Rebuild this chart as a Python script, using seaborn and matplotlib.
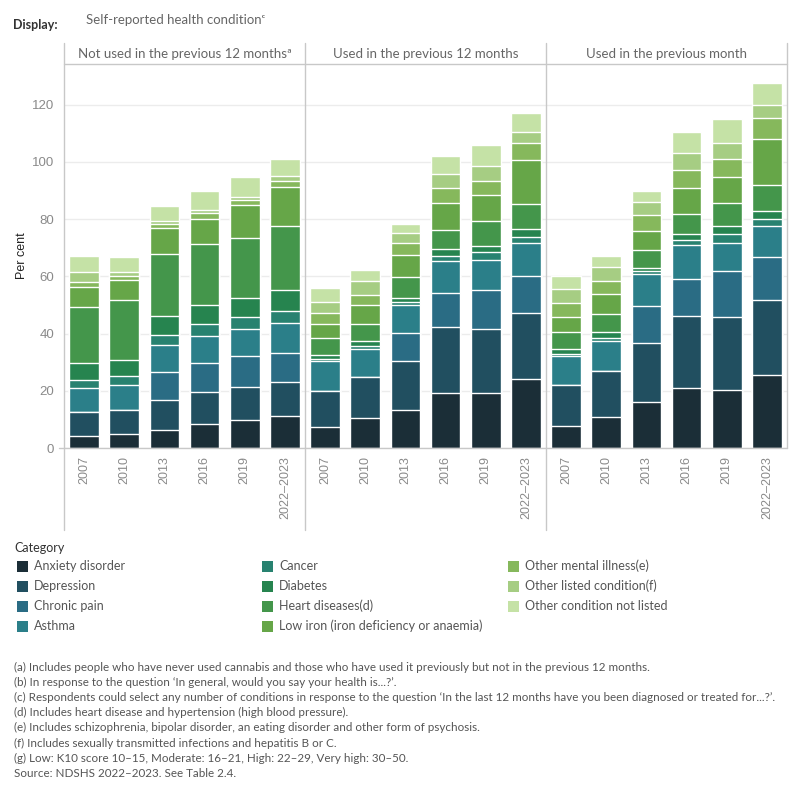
import pandas as pd
import matplotlib
matplotlib.use("Agg")
import matplotlib.pyplot as plt
import seaborn as sns
from matplotlib.patches import Rectangle
from matplotlib.lines import Line2D

years = ["2007", "2010", "2013", "2016", "2019", "2022–2023"]
groups = ["Not used in the previous 12 monthsª", "Used in the previous 12 months",
          "Used in the previous month"]
categories = ["Anxiety disorder", "Depression", "Chronic pain", "Asthma", "Cancer",
              "Diabetes", "Heart diseases(d)", "Low iron (iron deficiency or anaemia)",
              "Other mental illness(e)", "Other listed condition(f)", "Other condition not listed"]
palette = ["#1b2e37", "#214f60", "#2a6c84", "#2b7f89", "#288270", "#26844f",
           "#44964b", "#66a648", "#86b85c", "#a6cd83", "#c5e2a6"]

# per cent, rows follow `categories`, columns follow `years`
not_used_12m = [
    [4.2, 5.0, 6.4, 8.5, 9.7, 11.2],
    [8.4, 8.4, 10.5, 11.1, 11.6, 11.9],
    [0, 0, 9.7, 10.2, 10.9, 10.2],
    [8.4, 8.7, 9.3, 9.4, 9.5, 10.4],
    [2.9, 3.0, 3.7, 4.3, 4.1, 4.1],
    [5.8, 5.8, 6.6, 6.6, 6.8, 7.3],
    [19.6, 20.7, 21.7, 21.3, 20.8, 22.6],
    [7.0, 7.0, 9.0, 8.6, 11.7, 13.6],
    [1.7, 1.7, 1.5, 2.2, 1.7, 2.1],
    [3.5, 1.2, 0.9, 1.1, 1.0, 1.6],
    [5.5, 5.3, 5.3, 6.6, 7.0, 5.9],
]
used_12m = [
    [7.3, 10.5, 13.4, 19.2, 19.2, 24.0],
    [12.6, 14.3, 17.0, 23.1, 22.5, 23.2],
    [0, 0, 9.8, 11.9, 13.5, 12.9],
    [10.5, 9.8, 9.7, 11.2, 10.4, 11.6],
    [0.7, 1.1, 1.0, 1.7, 2.8, 2.1],
    [1.3, 1.7, 1.5, 2.5, 2.2, 2.9],
    [6.2, 6.1, 7.4, 6.6, 8.8, 8.6],
    [4.9, 6.6, 7.7, 9.5, 9.1, 15.4],
    [3.7, 3.4, 4.2, 5.2, 4.9, 5.9],
    [3.8, 4.9, 3.6, 4.9, 5.2, 3.9],
    [4.8, 3.7, 3.0, 6.2, 7.2, 6.6],
]
used_month = [
    [7.7, 10.8, 16.1, 20.9, 20.4, 25.6],
    [14.4, 16.1, 20.6, 25.3, 25.4, 26.0],
    [0, 0, 13.0, 12.9, 16.1, 15.2],
    [10.1, 10.5, 11.3, 12.0, 9.9, 10.9],
    [0.6, 1.1, 1.0, 1.7, 3.1, 2.5],
    [1.8, 1.9, 1.1, 2.1, 2.8, 2.8],
    [5.9, 6.6, 6.2, 7.0, 8.0, 9.1],
    [5.3, 6.7, 6.7, 9.1, 9.1, 16.1],
    [5.0, 4.7, 5.6, 6.3, 6.4, 7.3],
    [4.8, 4.9, 4.4, 6.0, 5.6, 4.5],
    [4.4, 3.7, 3.7, 7.2, 8.1, 7.6],
]

footnotes = [
    "(a) Includes people who have never used cannabis and those who have used it previously but not in the previous 12 months.",
    "(b) In response to the question \u2018In general, would you say your health is...?\u2019.",
    "(c) Respondents could select any number of conditions in response to the question \u2018In the last 12 months have you been diagnosed or treated for...?\u2019.",
    "(d) Includes heart disease and hypertension (high blood pressure).",
    "(e) Includes schizophrenia, bipolar disorder, an eating disorder and other form of psychosis.",
    "(f) Includes sexually transmitted infections and hepatitis B or C.",
    "(g) Low: K10 score 10\u201315, Moderate: 16\u201321, High: 22\u201329, Very high: 30\u201350.",
    "Source: NDSHS 2022\u20132023. See Table 2.4.",
]

# long table with cumulative tops for stacking
rows = []
for g, table in zip(groups, [not_used_12m, used_12m, used_month]):
    for j, yr in enumerate(years):
        cum = 0
        for i, cat in enumerate(categories):
            cum += table[i][j]
            rows.append({"group": g, "year": yr, "category": cat, "top": cum})
df = pd.DataFrame(rows)

sns.set_theme(style="white")
plt.rcParams["font.family"] = ["Lato", "DejaVu Sans"]

W = H = 800
fig = plt.figure(figsize=(8, 8), dpi=100)

def fx(px):
    return px / W

def fy(py):
    return 1 - py / H

left, pw, top, base = 64, 241, 64, 448
grid_c = "#c8c8c8"
ymax = (base - top) / 2.86
tick_font = ["Liberation Sans", "DejaVu Sans"]

for k, g in enumerate(groups):
    ax = fig.add_axes([fx(left + k * pw), fy(base), pw / W, (base - top) / H])
    sub = df[df["group"] == g]
    # draw from the tallest cumulative down so each lower segment overlays
    for cat, col in zip(categories[::-1], palette[::-1]):
        sns.barplot(data=sub[sub["category"] == cat], x="year", y="top", order=years,
                    color=col, saturation=1, width=0.74, edgecolor="white",
                    linewidth=1, errorbar=None, ax=ax)
    ax.set_ylim(0, ymax)
    ax.set_xlim(-0.5, 5.5)
    ax.set_yticks([0, 20, 40, 60, 80, 100, 120])
    ax.set_xticks([0.5, 1.5, 2.5, 3.5, 4.5], minor=True)
    ax.yaxis.grid(True, color="#ececec", lw=1)
    ax.set_axisbelow(True)
    for s in ax.spines.values():
        s.set_visible(False)
    ax.set_xlabel("")
    ax.set_ylabel("")
    ax.tick_params(axis="x", which="major", length=0, pad=6, labelrotation=90,
                   labelsize=9, labelcolor="#8a8a8a")
    ax.tick_params(axis="x", which="minor", length=4, width=1, color="#e6e6e6")
    ax.tick_params(axis="y", length=5, width=1, color="#e6e6e6", pad=2,
                   labelsize=9.5, labelcolor="#8a8a8a")
    for t in ax.get_xticklabels() + ax.get_yticklabels():
        t.set_fontfamily(tick_font)
    if k > 0:
        ax.set_yticklabels([])
        ax.tick_params(axis="y", length=0)
    fig.text(fx(left + k * pw + pw / 2), fy(54), g, ha="center", va="center",
             fontsize=9.5, color="#666666")

# frame lines of the small multiples
lines = [
    ((left, left + 3 * pw), (top, top)),
    ((59, left + 3 * pw), (base, base)),
    ((left, left), (43, 530)),
    ((left + pw, left + pw), (43, 530)),
    ((left + 2 * pw, left + 2 * pw), (43, 530)),
    ((left + 3 * pw, left + 3 * pw), (43, base)),
]
for xs, ys in lines:
    fig.add_artist(Line2D([fx(xs[0]), fx(xs[1])], [fy(ys[0]), fy(ys[1])],
                          color=grid_c, lw=1))

fig.text(fx(22), fy(256), "Per cent", rotation=90, ha="center", va="center",
         fontsize=9, color="#222222", family=tick_font)
fig.text(fx(13), fy(25), "Display:", ha="left", va="center", fontsize=9,
         color="#333333", fontweight="bold")
fig.text(fx(86), fy(20), "Self-reported health condition\u1d9c", ha="left",
         va="center", fontsize=9.5, color="#666666")

# legend
fig.text(fx(14), fy(548), "Category", ha="left", va="center", fontsize=9, color="#333333")
col_x = [17, 262, 508]
for i, (cat, col) in enumerate(zip(categories, palette)):
    c, r = (0, i) if i < 4 else ((1, i - 4) if i < 8 else (2, i - 8))
    yc = 566 + r * 20
    fig.add_artist(Rectangle((fx(col_x[c]), fy(yc + 5.5)), 11 / W, 11 / H,
                             color=col, lw=0))
    fig.text(fx(col_x[c] + 17), fy(yc), cat, ha="left", va="center",
             fontsize=9, color="#555555")

for i, note in enumerate(footnotes):
    fig.text(fx(14), fy(667 + i * 15.2), note, ha="left", va="center",
             fontsize=8.4, color="#555555")

fig.savefig("out.png", dpi=100)
